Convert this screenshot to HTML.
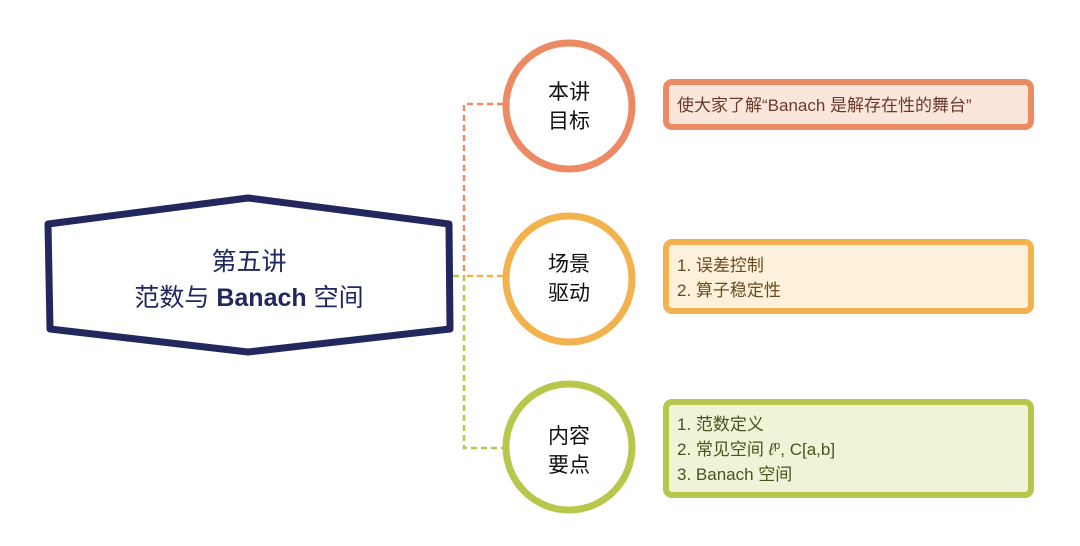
<!DOCTYPE html>
<html><head><meta charset="utf-8"><style>
body{margin:0;background:#fff;width:1080px;height:546px;overflow:hidden}
svg{display:block}
text{font-family:"Liberation Sans","Noto Sans CJK SC",sans-serif}
</style></head><body>
<svg width="1080" height="546" viewBox="0 0 1080 546">
<g fill="none" stroke-width="2.5" stroke-dasharray="6,4">
<path d="M503 104 H464 V276" stroke="#ec8a63"/>
<path d="M503 276 H464" stroke="#f2b24e"/>
<path d="M453 276 H464 V448 H503" stroke="#b9c64c"/>
</g>
<polygon points="48,224 248,198 449,224 450,329 248,352 50,329" fill="#fff" stroke="#22285e" stroke-width="7" stroke-linejoin="round"/>
<text x="249" y="270" font-size="25" fill="#22285e" text-anchor="middle">第五讲</text>
<text x="249" y="306" font-size="25" fill="#22285e" text-anchor="middle">范数与 <tspan font-weight="bold">Banach</tspan> 空间</text>
<circle cx="569" cy="106" r="63" fill="#fff" stroke="#ec8a63" stroke-width="7"/>
<circle cx="569" cy="279" r="63" fill="#fff" stroke="#f2b24e" stroke-width="7"/>
<circle cx="569" cy="447" r="63" fill="#fff" stroke="#b9c64c" stroke-width="7"/>
<g font-size="21" fill="#111" text-anchor="middle">
<text x="569" y="99">本讲</text><text x="569" y="128">目标</text>
<text x="569" y="271">场景</text><text x="569" y="300">驱动</text>
<text x="569" y="443">内容</text><text x="569" y="472">要点</text>
</g>
<rect x="666" y="82" width="365" height="45" rx="6" fill="#fbe6dc" stroke="#ec8a63" stroke-width="6"/>
<rect x="666" y="242" width="365" height="69" rx="6" fill="#fdf1dc" stroke="#f2b24e" stroke-width="6"/>
<rect x="666" y="402" width="365" height="93" rx="6" fill="#f0f3d7" stroke="#b9c64c" stroke-width="6"/>
<g font-size="17">
<text x="677" y="111" fill="#6b3a2a">使大家了解“Banach 是解存在性的舞台”</text>
<text x="677" y="271" fill="#6b4a1e">1. 误差控制</text>
<text x="677" y="296" fill="#6b4a1e">2. 算子稳定性</text>
<text x="677" y="430" fill="#4a5220">1. 范数定义</text>
<text x="677" y="455" fill="#4a5220">2. 常见空间 <tspan font-style="italic">ℓ</tspan><tspan font-size="11" dy="-6">p</tspan><tspan dy="6">, C[a,b]</tspan></text>
<text x="677" y="480" fill="#4a5220">3. Banach 空间</text>
</g>
</svg>
</body></html>
